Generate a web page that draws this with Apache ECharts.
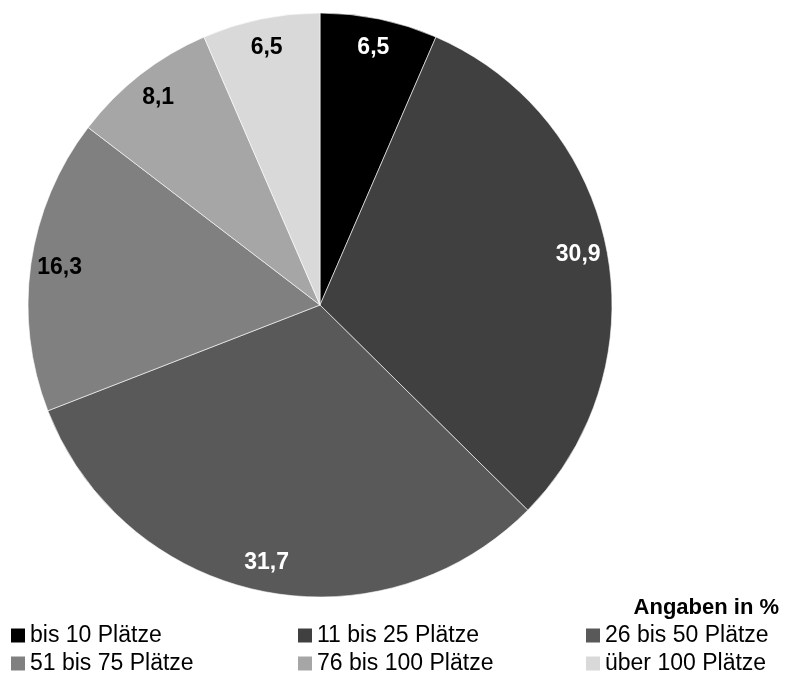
<!DOCTYPE html>
<html>
<head>
<meta charset="utf-8">
<script src="https://cdn.jsdelivr.net/npm/echarts@6/dist/echarts.min.js"></script>
<style>html,body{margin:0;padding:0;background:#fff;}#c{width:789px;height:691px;}</style>
</head>
<body>
<div id="c"></div>
<script>
const categories = ['bis 10 Plätze', '11 bis 25 Plätze', '26 bis 50 Plätze', '51 bis 75 Plätze', '76 bis 100 Plätze', 'über 100 Plätze'];
const values = [6.5, 30.9, 31.7, 16.3, 8.1, 6.5];
const sliceColors = ['#000000', '#404040', '#595959', '#808080', '#a6a6a6', '#d9d9d9'];
const labelColors = ['#ffffff', '#ffffff', '#ffffff', '#000000', '#000000', '#000000'];
const legendRows = [
  ['bis 10 Plätze', '11 bis 25 Plätze', '26 bis 50 Plätze'],
  ['51 bis 75 Plätze', '76 bis 100 Plätze', 'über 100 Plätze']
];
const noteText = 'Angaben in %';

const FONT = '"Liberation Sans", Arial, sans-serif';
const chart = echarts.init(document.getElementById('c'), null, {renderer: 'canvas'});

const pieData = categories.map((n, i) => ({name: n, value: values[i], itemStyle: {color: sliceColors[i]}}));
const labelData = categories.map((n, i) => ({
  name: n, value: values[i],
  itemStyle: {color: 'rgba(0,0,0,0)'},
  label: {color: labelColors[i]}
}));
const legendLefts = [11, 298, 586];
const legendTops = [624, 652];

const legends = [];
legendRows.forEach((row, r) => row.forEach((name, k) => {
  legends.push({
    data: [name], left: legendLefts[k], top: legendTops[r],
    itemWidth: 14, itemHeight: 14, icon: 'rect', selectedMode: false, padding: 0,
    itemStyle: {borderWidth: 0},
    textStyle: {fontFamily: FONT, fontSize: 23, color: '#000', padding: [0, 0, 0, 0]}
  });
}));

chart.setOption({
  animation: false,
  backgroundColor: '#ffffff',
  title: {
    text: noteText, right: 10, top: 597, padding: 0,
    textStyle: {fontFamily: FONT, fontSize: 22, fontWeight: 'bold', color: '#000'}
  },
  legend: legends,
  series: [
    {
      type: 'pie', center: [320, 305], radius: [0, 292], startAngle: 90, clockwise: true,
      silent: true, label: {show: false}, labelLine: {show: false},
      itemStyle: {borderColor: '#ffffff', borderWidth: 0.6},
      data: pieData
    },
    {
      type: 'pie', center: [320, 305], radius: [228, 292], startAngle: 90, clockwise: true,
      silent: true, labelLine: {show: false},
      label: {
        show: true, position: 'inside', fontFamily: FONT, fontSize: 23, fontWeight: 'bold',
        formatter: p => String(p.value).replace('.', ',')
      },
      data: labelData
    }
  ]
});
</script>
</body>
</html>
